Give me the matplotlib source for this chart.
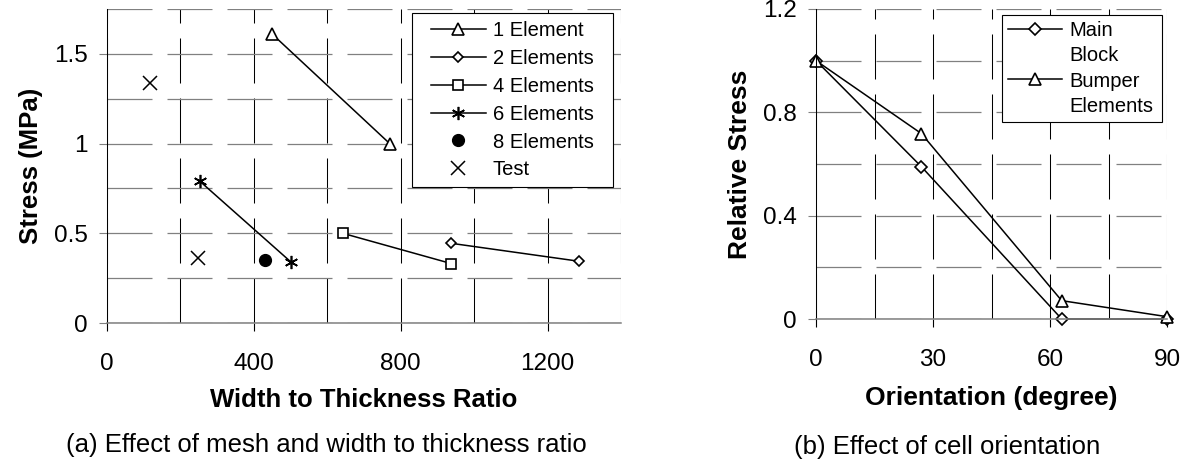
import matplotlib
matplotlib.use('Agg')
import matplotlib.pyplot as plt
from matplotlib.lines import Line2D
from matplotlib.legend_handler import HandlerLine2D
from matplotlib.ticker import MultipleLocator, FuncFormatter

plt.rcParams['font.family'] = ['Liberation Sans', 'DejaVu Sans']

# (a) stress vs width to thickness ratio, per mesh
el1_x = [450, 770]
el1_y = [1.61, 1.0]
el2_x = [938, 1286]
el2_y = [0.444, 0.344]
el4_x = [642, 938]
el4_y = [0.50, 0.331]
el6_x = [253, 501]
el6_y = [0.79, 0.34]
el8_x = [431]
el8_y = [0.351]
test_x = [118, 248]
test_y = [1.335, 0.364]

# (b) relative stress vs cell orientation
angle = [0, 27, 63, 90]
main_block = [1.0, 0.59, 0.0, 0.0]
bumper = [1.0, 0.718, 0.071, 0.009]

W, H = 1188, 465


def dash(lw, on_px=45, off_px=15):
    # dash lengths given in pixels, matplotlib scales them by linewidth
    on = on_px * 0.72 / lw
    off = off_px * 0.72 / lw
    return (0, (on, off))


def style_axes(ax, xmax, ymax, xmaj, xmin, ymaj, ymin):
    ax.set_xlim(0, xmax)
    ax.set_ylim(0, ymax)
    ax.xaxis.set_major_locator(MultipleLocator(xmaj))
    ax.xaxis.set_minor_locator(MultipleLocator(xmin))
    ax.yaxis.set_major_locator(MultipleLocator(ymaj))
    ax.yaxis.set_minor_locator(MultipleLocator(ymin))
    fmt = FuncFormatter(lambda v, p: '%g' % round(v, 3))
    ax.xaxis.set_major_formatter(fmt)
    ax.yaxis.set_major_formatter(fmt)
    ax.set_axisbelow(True)
    ax.grid(True, which='both', axis='x', color='black', linewidth=0.75,
            linestyle=dash(0.75))
    ax.grid(True, which='both', axis='y', color='#808080', linewidth=0.9,
            linestyle=dash(0.9))
    for s in ['top', 'right']:
        ax.spines[s].set_visible(False)
    ax.spines['left'].set_color('black')
    ax.spines['left'].set_linewidth(0.75)
    ax.spines['bottom'].set_color('#808080')
    ax.spines['bottom'].set_linewidth(1.1)
    ax.tick_params(which='major', direction='out', length=5.8, width=0.8,
                   labelsize=17.5)
    ax.tick_params(axis='x', which='major', pad=15.5, color='black')
    ax.tick_params(axis='y', which='major', pad=8, color='#808080')
    ax.tick_params(which='minor', length=0)


fig = plt.figure(figsize=(W / 100, H / 100), dpi=100)
ax1 = fig.add_axes([107 / W, 1 - 323 / H, (621 - 107) / W, (323 - 9) / H])
ax2 = fig.add_axes([816 / W, 1 - 319 / H, (1167 - 816) / W, (319 - 9) / H])

mk = dict(color='black', mfc='white', mec='black', lw=1.1, mew=1.2,
          clip_on=False)

# left plot
style_axes(ax1, 1400, 1.75, 400, 200, 0.5, 0.25)
ax1.plot(el1_x, el1_y, marker='^', ms=8.5, label='1 Element', **mk)
ax1.plot(el2_x, el2_y, marker='D', ms=5.5, label='2 Elements', **mk)
ax1.plot(el4_x, el4_y, marker='s', ms=7.5, label='4 Elements', **mk)
ax1.plot(el6_x, el6_y, marker=(6, 2, 0), ms=9.5, label='6 Elements', **mk)
ax1.plot(el8_x, el8_y, marker='o', ms=8.5, color='black', linestyle='none',
         label='8 Elements')
ax1.plot(test_x, test_y, marker='x', ms=9.5, mew=1.1, color='black',
         linestyle='none', label='Test')
ax1.set_xlabel('Width to Thickness Ratio', fontsize=18.5, fontweight='bold',
               labelpad=10)
ax1.set_ylabel('Stress (MPa)', fontsize=18.5, fontweight='bold', labelpad=8)
leg1 = ax1.legend(loc='upper left',
                  bbox_to_anchor=(412 / W, 1 - 191 / H, 201 / W, 178 / H),
                  bbox_transform=fig.transFigure, mode='expand', fontsize=14.5,
                  handler_map={Line2D: HandlerLine2D(xpad=0.55)},
                  handlelength=3.25, handletextpad=0.35, labelspacing=0.44,
                  borderpad=0.4, borderaxespad=0, fancybox=False,
                  framealpha=1, edgecolor='black')
leg1.get_frame().set_linewidth(0.8)

# right plot
style_axes(ax2, 90, 1.2, 30, 15, 0.4, 0.2)
l_main, = ax2.plot(angle, main_block, marker='D', ms=6, **mk)
l_bump, = ax2.plot(angle, bumper, marker='^', ms=9, **mk)
ax2.set_xlabel('Orientation (degree)', fontsize=19, fontweight='bold',
               labelpad=11)
ax2.set_ylabel('Relative Stress', fontsize=19, fontweight='bold', labelpad=8)
blank = Line2D([], [], linestyle='none')
leg2 = ax2.legend([l_main, blank, l_bump, blank],
                  ['Main', 'Block', 'Bumper', 'Elements'],
                  loc='upper left',
                  bbox_to_anchor=(1002 / W, 1 - 129 / H, 160 / W, 114 / H),
                  bbox_transform=fig.transFigure, mode='expand', fontsize=14.5,
                  handlelength=2.7, handletextpad=0.35, labelspacing=0.31,
                  borderpad=0.3, borderaxespad=0, fancybox=False,
                  framealpha=1, edgecolor='black')
leg2.get_frame().set_linewidth(0.8)

# captions under each plot
fig.text(326 / W, 1 - 445 / H, '(a) Effect of mesh and width to thickness ratio',
         ha='center', va='center', fontsize=18.5)
fig.text(947 / W, 1 - 447 / H, '(b) Effect of cell orientation',
         ha='center', va='center', fontsize=18.5)

fig.savefig('out.png', dpi=100)
